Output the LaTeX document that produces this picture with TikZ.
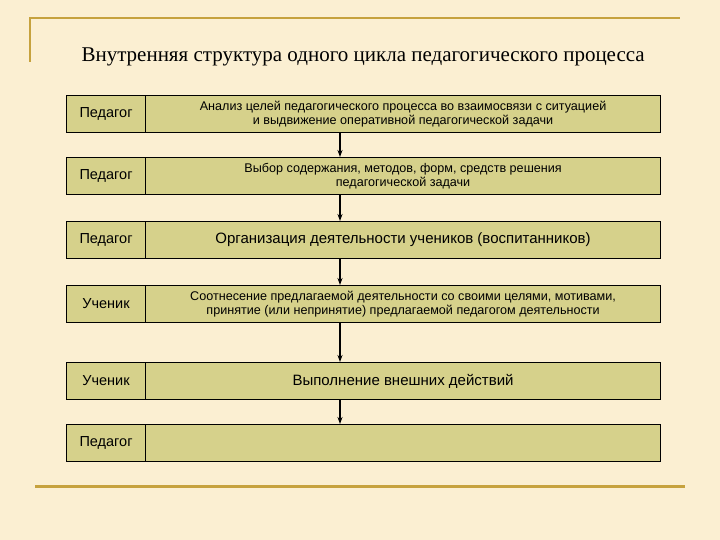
\documentclass[tikz,border=0pt]{standalone}
\usepackage{fontspec}
\setmainfont{Liberation Sans}
\newfontfamily\titlefont{Liberation Serif}
\usetikzlibrary{arrows.meta}
\definecolor{bg}{HTML}{FBEFD2}
\definecolor{gold}{HTML}{C6A23E}
\definecolor{cellfill}{HTML}{D6D18B}
\begin{document}
\begin{tikzpicture}[x=1pt,y=-1pt,
  lab/.style={draw=black,line width=1.1pt,fill=cellfill,anchor=north west,minimum width=79pt,minimum height=37pt,inner sep=0pt,font=\fontsize{14.5}{16}\selectfont},
  cell/.style={draw=black,line width=1.1pt,fill=cellfill,anchor=north west,minimum width=515pt,minimum height=37pt,inner sep=0pt,align=center,font=\fontsize{12.6}{14.5}\selectfont},
  arr/.style={-{Stealth[length=7pt,width=5pt]},line width=1.1pt}]
\fill[bg] (0,0) rectangle (720,540);
\useasboundingbox (0,0) rectangle (720,540);
\draw[gold,line width=2.5pt] (30,62) -- (30,18) -- (680,18);
\draw[gold,line width=3pt] (35,486) -- (685,486);
\node[font=\titlefont\fontsize{21}{24}\selectfont,anchor=west] (title) at (78,57) {Внутренняя структура одного цикла педагогического процесса};
\coordinate (ax) at (340,0);
\node[lab] (l1) at (66,95) {Педагог};
\node[cell] (c1) at (145,95) {Анализ целей педагогического процесса во взаимосвязи с ситуацией\\и выдвижение оперативной педагогической задачи};
\node[lab] (l2) at (66,157) {Педагог};
\node[cell] (c2) at (145,157) {Выбор содержания, методов, форм, средств решения\\педагогической задачи};
\node[lab] (l3) at (66,221) {Педагог};
\node[cell,font=\fontsize{15}{17}\selectfont] (c3) at (145,221) {Организация деятельности учеников (воспитанников)};
\node[lab] (l4) at (66,285) {Ученик};
\node[cell] (c4) at (145,285) {Соотнесение предлагаемой деятельности со своими целями, мотивами,\\принятие (или непринятие) предлагаемой педагогом деятельности};
\node[lab] (l5) at (66,362) {Ученик};
\node[cell,font=\fontsize{15}{17}\selectfont] (c5) at (145,362) {Выполнение внешних действий};
\node[lab] (l6) at (66,424) {Педагог};
\node[cell] (c6) at (145,424) {};
\foreach \a/\b in {c1/c2,c2/c3,c3/c4,c4/c5,c5/c6}
  \draw[arr] (\a.south -| ax) -- (\b.north -| ax);
\end{tikzpicture}
\end{document}
